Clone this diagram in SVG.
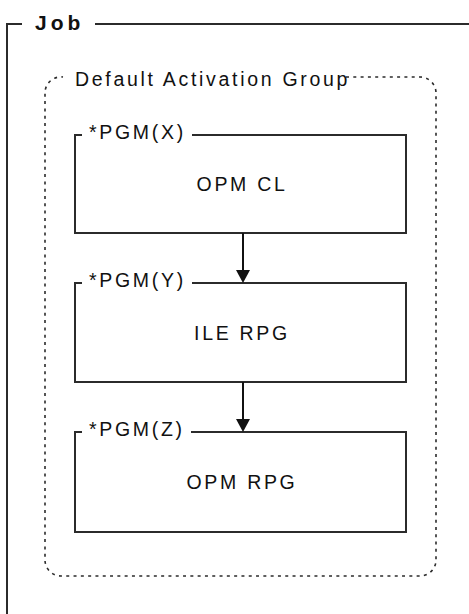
<svg xmlns="http://www.w3.org/2000/svg" width="469" height="614" viewBox="0 0 469 614">
<style>
.frame{fill:none;stroke:#2b2b2b;stroke-width:2}
.dot{fill:none;stroke:#2b2b2b;stroke-width:1.6;stroke-dasharray:3 4.3}
.t{font-family:"Liberation Sans",Arial,sans-serif;font-size:19.5px;fill:#111;letter-spacing:2.7px}
.c{text-anchor:middle}
.job{font-family:"Liberation Sans",Arial,sans-serif;font-size:21px;font-weight:bold;fill:#111;letter-spacing:4px}
.conn{stroke:#111;stroke-width:2;fill:none}
.head{fill:#111}
</style>
<rect width="469" height="614" fill="#fff"/>
<g id="job">
<path class="frame" d="M7,614 V24 H22 M95,24 H469"/>
<text class="job" x="35" y="30">Job</text>
</g>
<g id="activation-group">
<path class="dot" d="M346,77 H420 A16,16 0 0 1 436,93 V560 A16,16 0 0 1 420,576 H61 A16,16 0 0 1 45,560 V93 A16,16 0 0 1 63,77"/>
<text class="t" x="75" y="86">Default Activation Group</text>
</g>
<g id="pgm-x">
<path class="frame" d="M82,135 H75 V233 H406 V135 H192"/>
<text class="t" x="89" y="139">*PGM(X)</text>
<text class="t c" x="242" y="191">OPM CL</text>
</g>
<g id="pgm-y">
<path class="frame" d="M82,283 H75 V382 H406 V283 H192"/>
<text class="t" x="89" y="287">*PGM(Y)</text>
<text class="t c" x="242" y="340">ILE RPG</text>
</g>
<g id="pgm-z">
<path class="frame" d="M82,432 H75 V532 H406 V432 H191"/>
<text class="t" x="89" y="436">*PGM(Z)</text>
<text class="t c" x="242" y="489">OPM RPG</text>
</g>
<g id="connectors">
<line class="conn" x1="243" y1="233" x2="243" y2="272"/>
<polygon class="head" points="236,270 250,270 243,283"/>
<line class="conn" x1="243" y1="382" x2="243" y2="421"/>
<polygon class="head" points="236,419 250,419 243,432"/>
</g>
</svg>
